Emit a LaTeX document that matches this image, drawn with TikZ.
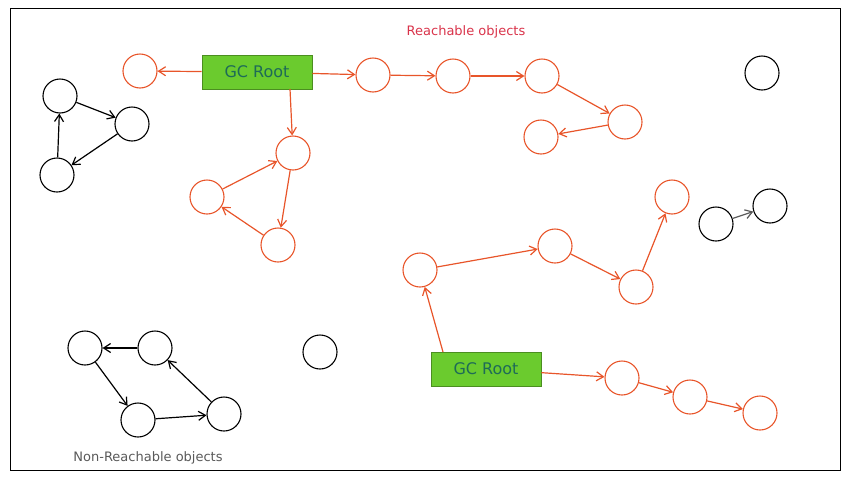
\documentclass[tikz,border=0pt]{standalone}
\usepackage{fontspec}
\setmainfont{DejaVu Sans}
\usetikzlibrary{arrows.meta}
\definecolor{org}{HTML}{E8552A}
\definecolor{gfill}{HTML}{6BCB2E}
\definecolor{gtxt}{HTML}{1E6B57}
\definecolor{rtxt}{HTML}{D9334A}
\begin{document}
\begin{tikzpicture}[x=1pt,y=-1pt,
  ro/.style={circle,draw=org,line width=1.1pt,minimum size=34pt,inner sep=0pt},
  bo/.style={circle,draw=black,line width=1.1pt,minimum size=34pt,inner sep=0pt},
  gc/.style={rectangle,draw=gfill!70!black,fill=gfill,line width=0.8pt,minimum width=110pt,minimum height=34pt,text=gtxt,font=\fontsize{16}{16}\selectfont},
  ra/.style={draw=org,line width=1.2pt,-{Straight Barb[length=7pt,width=9pt]}},
  ba/.style={draw=black,line width=1.2pt,-{Straight Barb[length=7pt,width=9pt]}}]
\useasboundingbox (0,0) rectangle (852,480);
\draw[line width=1pt] (10,8) rectangle (840,470);
\node[gc] (g1) at (257,72) {GC Root};
\node[gc] (g2) at (486,369) {GC Root};
\coordinate (gs) at (290,89);
\coordinate (gn) at (443,352);
\node[ro] (o1) at (140,71) {};
\node[ro] (o2) at (373,75) {};
\node[ro] (o3) at (453,76) {};
\node[ro] (o4) at (542,76) {};
\node[ro] (o5) at (625,122) {};
\node[ro] (o6) at (541,137) {};
\node[ro] (o7) at (293,153) {};
\node[ro] (o8) at (278,245) {};
\node[ro] (o9) at (207,197) {};
\node[ro] (o10) at (420,270) {};
\node[ro] (o11) at (555,246) {};
\node[ro] (o12) at (636,287) {};
\node[ro] (o13) at (672,197) {};
\node[ro] (o14) at (622,378) {};
\node[ro] (o15) at (690,397) {};
\node[ro] (o16) at (760,413) {};
\draw[ra] (g1) -- (o1);
\draw[ra] (g1) -- (o2);
\draw[ra] (o2) -- (o3);
\draw[ra] (o3) -- (o4);
\draw[ra] (o4) -- (o5);
\draw[ra] (o5) -- (o6);
\draw[ra] (gs) -- (o7);
\draw[ra] (o7) -- (o8);
\draw[ra] (o8) -- (o9);
\draw[ra] (o9) -- (o7);
\draw[ra] (gn) -- (o10);
\draw[ra] (o10) -- (o11);
\draw[ra] (o11) -- (o12);
\draw[ra] (o12) -- (o13);
\draw[ra] (g2) -- (o14);
\draw[ra] (o14) -- (o15);
\draw[ra] (o15) -- (o16);
\node[bo] (b1) at (60,96) {};
\node[bo] (b2) at (132,124) {};
\node[bo] (b3) at (57,175) {};
\node[bo] (b4) at (762,73) {};
\node[bo] (b5) at (716,224) {};
\node[bo] (b6) at (770,206) {};
\node[bo] (b7) at (320,352) {};
\node[bo] (b8) at (85,348) {};
\node[bo] (b9) at (155,348) {};
\node[bo] (b10) at (138,420) {};
\node[bo] (b11) at (224,414) {};
\draw[ba] (b1) -- (b2);
\draw[ba] (b2) -- (b3);
\draw[ba] (b3) -- (b1);
\draw[ba,draw=black!65] (b5) -- (b6);
\draw[ba] (b9) -- (b8);
\draw[ba] (b8) -- (b10);
\draw[ba] (b10) -- (b11);
\draw[ba] (b11) -- (b9);
\node[text=rtxt,font=\fontsize{13}{13}\selectfont] (t1) at (466,32) {Reachable objects};
\node[text=black!65,font=\fontsize{13}{13}\selectfont] (t2) at (148,458) {Non-Reachable objects};
\end{tikzpicture}
\end{document}
